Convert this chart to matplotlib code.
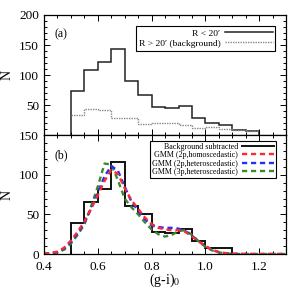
import matplotlib
matplotlib.use("Agg")
import matplotlib.pyplot as plt
from matplotlib.ticker import MultipleLocator
import numpy as np

plt.rcParams['font.family'] = ['Liberation Serif', 'DejaVu Serif']
plt.rcParams['mathtext.fontset'] = 'stix'

# top panel: raw counts
edges_top = np.round(np.arange(0.5, 1.2001, 0.05), 3)
inner = [73, 109, 122, 143, 90, 67, 46, 45, 48, 29, 19.5, 17, 9, 7.5]
outer = [33, 43, 41, 28, 29, 18, 19.5, 19.5, 17, 12, 14, 10, 8.5, 7]

# bottom panel: background subtracted histogram
edges_bot = np.round(np.arange(0.5, 1.1001, 0.05), 3)
subtracted = [39, 66, 82, 116, 60, 50, 28, 27, 32, 17, 7, 7]

# GMM model curves
gx = [0.40, 0.425, 0.45, 0.475, 0.50, 0.525, 0.55, 0.575, 0.60, 0.625, 0.65, 0.675,
      0.70, 0.725, 0.75, 0.775, 0.80, 0.825, 0.85, 0.875, 0.90, 0.925, 0.95, 0.975,
      1.00, 1.025, 1.05, 1.075, 1.10, 1.125, 1.15, 1.30]
g_homo2 = [0.5, 1.2, 3, 8, 17, 28, 41, 57, 74, 92, 106, 101, 83, 68, 57, 46, 38, 33,
           31, 30, 30, 28, 22, 16, 10, 5.5, 2.5, 1, 0.4, 0.1, 0, 0]
g_het2 = [0.3, 1, 2.5, 7, 15, 26, 39, 57, 77, 98, 111, 105, 85, 66, 55, 44, 36, 34,
          33, 33, 32, 29, 23, 16, 10, 5, 2.3, 0.9, 0.3, 0.1, 0, 0]
g_het3 = [0.2, 0.6, 2, 5.5, 13, 24, 37, 60, 85, 114, 113, 93, 70, 59, 50, 40, 31, 25,
          22, 24, 29, 30, 24, 16, 9, 4.5, 2, 0.8, 0.3, 0.1, 0, 0]

fig = plt.figure(figsize=(2.99, 2.88), dpi=100)
ax1 = fig.add_axes([0.147, 0.531, 0.81, 0.417])
ax2 = fig.add_axes([0.147, 0.118, 0.81, 0.413], sharex=ax1)

ax1.stairs(inner, edges_top, baseline=0, color='#222222', lw=1.1, label="R < 20\u2032")
ax1.stairs(outer, edges_top, baseline=None, color='#888888', lw=1.0, ls=(0, (1, 0.8)),
           label="R > 20\u2032 (background)")

ax2.stairs(subtracted, edges_bot, baseline=0, color='#111111', lw=1.4, label="Background subtracted")
dash = (0, (2.2, 1.6))
l3, = ax2.plot(gx, g_het3, color='#3b8a2a', lw=1.7, ls=dash, label="GMM (3p,heteroscedastic)")
l2, = ax2.plot(gx, g_het2, color='#2a2aff', lw=1.7, ls=dash, label="GMM (2p,heteroscedastic)")
l1, = ax2.plot(gx, g_homo2, color='#ff2a2a', lw=1.7, ls=dash, label="GMM (2p,homoscedastic)")

ax1.set_xlim(0.4, 1.3)
ax1.set_ylim(0, 200)
ax2.set_ylim(0, 150)

for ax in (ax1, ax2):
    ax.xaxis.set_major_locator(MultipleLocator(0.2))
    ax.xaxis.set_minor_locator(MultipleLocator(0.05))
    ax.yaxis.set_major_locator(MultipleLocator(50))
    ax.yaxis.set_minor_locator(MultipleLocator(10))
    ax.tick_params(which='both', direction='in', top=True, right=True, labelsize=9.5, width=0.7)
    ax.tick_params(which='major', length=4)
    ax.tick_params(which='minor', length=2)
    for s in ax.spines.values():
        s.set_linewidth(0.9)
    ax.set_ylabel("N", fontsize=10)
    ax.yaxis.set_label_coords(-0.125, 0.5)

ax1.set_yticks([0, 50, 100, 150, 200], ['', '50', '100', '150', '200'])
ax1.tick_params(labelbottom=False)
ax2.tick_params(axis='x', pad=5)
fig.text(0.552, 1 - 280 / 288, "(g-i)$_0$", fontsize=10, ha='center', va='center')

ax1.text(0.045, 0.84, "(a)", transform=ax1.transAxes, fontsize=8.5, va='center')
ax2.text(0.045, 0.83, "(b)", transform=ax2.transAxes, fontsize=8.5, va='center')

leg1 = ax1.legend(loc='upper right', bbox_to_anchor=(0.975, 0.945), fontsize=6.8,
                  markerfirst=False, handlelength=5, fancybox=False, edgecolor='black',
                  framealpha=1, borderpad=0.3, labelspacing=0.15, handletextpad=0.5)
leg1.get_frame().set_linewidth(0.8)

h, lab = ax2.get_legend_handles_labels()
order = [lab.index("Background subtracted"), lab.index("GMM (2p,homoscedastic)"),
         lab.index("GMM (2p,heteroscedastic)"), lab.index("GMM (3p,heteroscedastic)")]
leg2 = ax2.legend([h[i] for i in order], [lab[i] for i in order], loc='upper right',
                  bbox_to_anchor=(0.975, 0.985), fontsize=5.8, markerfirst=False,
                  handlelength=4, fancybox=False, edgecolor='black', framealpha=1,
                  borderpad=0.25, labelspacing=0.05, handletextpad=0.5)
leg2.get_frame().set_linewidth(0.8)

fig.savefig("out.png", dpi=100)
